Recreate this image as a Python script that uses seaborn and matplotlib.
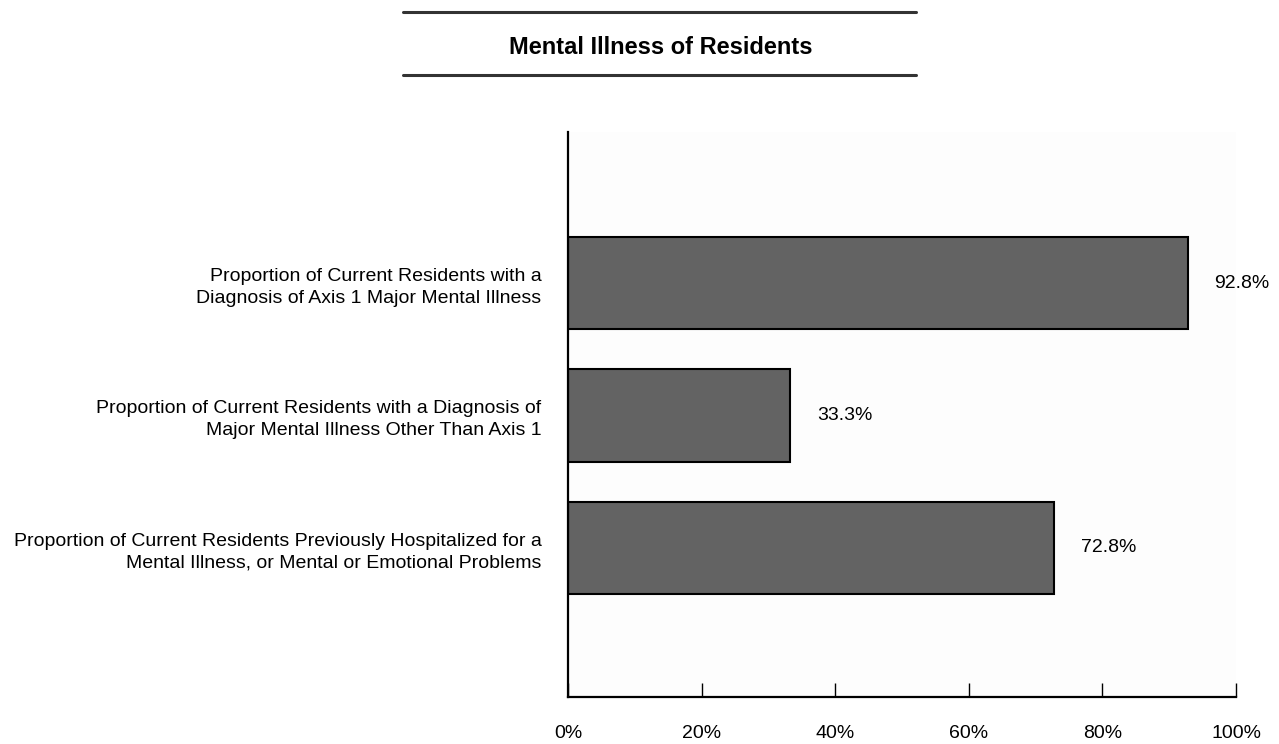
import matplotlib
matplotlib.use("Agg")
import matplotlib.pyplot as plt
from matplotlib.lines import Line2D
import pandas as pd
import seaborn as sns

title = "Mental Illness of Residents"
categories = [
    "Proportion of Current Residents with a\nDiagnosis of Axis 1 Major Mental Illness",
    "Proportion of Current Residents with a Diagnosis of\nMajor Mental Illness Other Than Axis 1",
    "Proportion of Current Residents Previously Hospitalized for a\nMental Illness, or Mental or Emotional Problems",
]
values = [92.8, 33.3, 72.8]
x_ticks = [0, 20, 40, 60, 80, 100]
x_tick_labels = ["0%", "20%", "40%", "60%", "80%", "100%"]

sns.set_theme(style="white")
plt.rcParams["font.family"] = ["Liberation Sans", "DejaVu Sans"]
plt.rcParams["text.color"] = "black"
plt.rcParams["xtick.color"] = "black"
plt.rcParams["ytick.color"] = "black"

df = pd.DataFrame({"category": categories, "value": values})

fig = plt.figure(figsize=(12.79, 7.44), dpi=100)
ax = fig.add_axes([0.4441, 0.0632, 0.5223, 0.7594])
ax.set_facecolor("#fdfdfd")

sns.barplot(data=df, x="value", y="category", orient="h", color="#636363",
            saturation=1, edgecolor="black", linewidth=1.5, width=0.7, ax=ax)

ax.set_xlim(0, 100)
ax.set_ylim(3.125, -1.14)
ax.set_xticks(x_ticks)
ax.set_xticklabels(x_tick_labels, fontsize=14)
ax.set_yticklabels(categories, fontsize=14)
for lbl in ax.get_yticklabels():
    lbl.set_linespacing(1.35)
ax.set_xlabel("")
ax.set_ylabel("")
ax.tick_params(axis="x", direction="in", length=10, width=1, color="black", pad=20, bottom=True)
ax.tick_params(axis="y", length=0, pad=19)

for side in ["top", "right"]:
    ax.spines[side].set_visible(False)
for side in ["left", "bottom"]:
    ax.spines[side].set_color("black")
    ax.spines[side].set_linewidth(1.6)

ax.bar_label(ax.containers[0], labels=[f"{v:.1f}%" for v in values],
             padding=19, fontsize=14, color="black")

# title with rules above and below
fig.text(0.517, 1 - 48 / 744, title, ha="center", va="center", fontsize=17,
         fontweight="bold", color="black")
fig.add_artist(Line2D([403 / 1279, 916 / 1279], [1 - 12 / 744, 1 - 12 / 744],
                      color="#333333", linewidth=2.2))
fig.add_artist(Line2D([403 / 1279, 916 / 1279], [1 - 75 / 744, 1 - 75 / 744],
                      color="#333333", linewidth=2.2))

fig.savefig("out.png", dpi=100, facecolor="white")
